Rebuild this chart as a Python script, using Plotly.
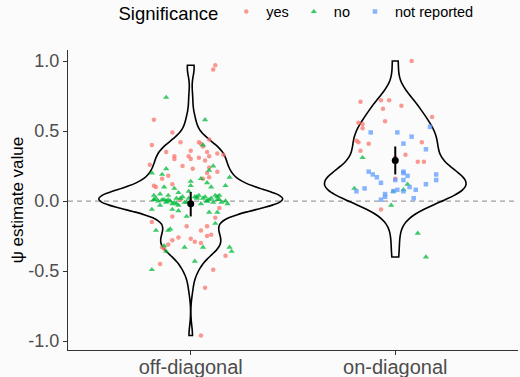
import numpy as np
import plotly.graph_objects as go

# ---------------- data ----------------
categories = ["off-diagonal", "on-diagonal"]
cat_pos = [1, 2]
sig_levels = ["yes", "no", "not reported"]

# off-diagonal, significance = yes
off_yes_val = [0.97, 0.94, 0.58, 0.49, 0.40, 0.42, 0.42, 0.41, 0.39, 0.44,
               0.35, 0.36, 0.35, 0.34, 0.33, 0.32, 0.30, 0.32, 0.30, 0.31,
               0.32, 0.29, 0.26, 0.25, 0.23, 0.24, 0.18, 0.16, 0.20, 0.17,
               0.16, 0.11, 0.12, 0.10, 0.01, -0.05, -0.11, -0.12, -0.18, -0.18,
               -0.21, -0.15, -0.25, -0.24, -0.28, -0.26, -0.27, -0.29, -0.30, -0.31,
               -0.33, -0.34, -0.39, -0.45, -0.49, -0.62, -0.96, 0.21]
off_yes_jit = [0.12, 0.11, -0.18, -0.09, -0.19, -0.05, 0.04, 0.05, 0.06, 0.09,
               -0.12, 0.00, 0.08, 0.13, 0.16, -0.08, -0.08, -0.01, 0.00, 0.04,
               0.09, 0.07, -0.20, -0.04, 0.01, 0.09, -0.11, -0.14, 0.08, 0.09,
               0.06, -0.18, -0.09, -0.17, -0.05, 0.14, -0.09, 0.12, -0.02, 0.08,
               0.05, -0.19, 0.08, 0.10, -0.09, -0.06, 0.00, 0.02, 0.05, -0.11,
               -0.14, -0.13, 0.17, -0.15, 0.11, 0.07, 0.05, 0.13]

# off-diagonal, significance = no
off_no_val = [0.74, 0.58, 0.40, 0.25, 0.23, 0.20, 0.19, 0.22, 0.17, 0.14,
              0.16, 0.10, 0.09, 0.11, 0.13, 0.11, 0.10, 0.04, 0.05, 0.04,
              0.06, 0.07, 0.04, 0.03, 0.04, 0.01, 0.01, 0.00, -0.02, 0.02,
              0.02, 0.01, 0.01, -0.06, -0.06, -0.07, -0.11, -0.08, -0.08, -0.03,
              -0.03, -0.16, -0.20, -0.21, -0.21, -0.32, -0.33, -0.33, -0.33, -0.36,
              -0.36, -0.43, -0.49, 0.02, -0.01, 0.03, -0.01, 0.02,
              0.00, 0.01, -0.01, 0.03, 0.02, -0.02, 0.00, 0.04, -0.01, 0.01,
              0.02, -0.02, 0.00, 0.03, -0.01,
              0.01, 0.00, 0.02, -0.01, 0.03, 0.00, 0.01, -0.02]
off_no_jit = [-0.12, 0.07, 0.06, 0.11, -0.12, -0.19, -0.14, 0.09, 0.19, 0.00,
              0.05, -0.13, -0.08, 0.00, 0.08, 0.17, 0.10, -0.18, -0.15, -0.11,
              -0.06, -0.01, 0.04, 0.07, 0.14, -0.18, -0.14, -0.10, -0.09, -0.01,
              0.06, 0.09, 0.14, -0.19, -0.09, -0.06, -0.02, 0.09, 0.13, -0.15,
              -0.06, 0.12, -0.10, -0.11, -0.17, -0.13, -0.03, 0.06, 0.19, -0.12,
              0.20, 0.02, -0.19, -0.17, -0.12, 0.02, 0.11, -0.05,
              -0.16, -0.13, -0.08, -0.04, 0.03, 0.05, 0.08, 0.12, 0.15, -0.11,
              0.10, -0.07, 0.17, 0.13, -0.03,
              -0.18, -0.12, -0.07, -0.02, 0.03, 0.08, 0.13, 0.18]

# on-diagonal, significance = yes
on_yes_val = [1.00, 0.71, 0.72, 0.72, 0.66, 0.68, 0.60, 0.57, 0.56, 0.55,
              0.52, 0.43, 0.42, 0.42, 0.41, 0.36, 0.33, 0.31, 0.28, 0.28,
              0.16, -0.06]
on_yes_jit = [0.08, -0.17, -0.07, -0.03, -0.06, 0.03, 0.18, -0.05, -0.18, -0.16,
              -0.16, -0.19, -0.18, 0.13, -0.13, -0.17, 0.05, 0.00, 0.11, 0.14,
              0.00, -0.07]

# on-diagonal, significance = no
on_no_val = [0.31, 0.12, 0.09, 0.08, 0.07, -0.03, -0.23, -0.40]
on_no_jit = [-0.16, 0.06, -0.20, 0.04, -0.01, -0.02, 0.11, 0.15]

# on-diagonal, significance = not reported
on_nr_val = [0.53, 0.49, 0.49, 0.46, 0.41, 0.37, 0.21, 0.19, 0.17, 0.13,
             0.15, 0.20, 0.21, 0.18, 0.15, 0.19, 0.15, 0.12, 0.10, 0.08,
             0.07, 0.09, 0.07, 0.08, 0.07, 0.05, 0.03, 0.01, 0.02]
on_nr_jit = [0.17, -0.12, 0.01, 0.08, 0.04, 0.15, -0.13, -0.11, -0.09, -0.07,
             0.00, 0.04, 0.04, 0.06, 0.04, 0.20, 0.20, 0.15, 0.07, 0.10,
             -0.19, -0.15, 0.04, 0.01, -0.01, -0.05, -0.05, -0.07, 0.09]

# summary (mean and interval) per category
mean_vals = [-0.02, 0.29]
err_hi = [0.085, 0.10]
err_lo = [0.09, 0.10]

y_tick_vals = [-1.0, -0.5, 0.0, 0.5, 1.0]
y_tick_text = ["-1.0", "-0.5", "0.0", "0.5", "1.0"]

# ---------------- styling ----------------
colors = {"yes": "#F8766D", "no": "#00BA38", "not reported": "#619CFF"}
symbols = {"yes": "circle", "no": "triangle-up", "not reported": "square"}
sizes = {"yes": 4.5, "no": 5.5, "not reported": 4.5}
violin_widths = [0.9, 0.69]
FONT = "Liberation Sans, Arial, sans-serif"
BG = "#FBFBFB"


def bw_nrd0(v):
    v = np.asarray(v, float)
    sd = v.std(ddof=1)
    iqr = np.subtract(*np.percentile(v, [75, 25]))
    lo = min(sd, iqr / 1.34)
    if lo <= 0:
        lo = sd
    return 0.9 * lo * len(v) ** -0.2


off_all = off_yes_val + off_no_val
on_all = on_yes_val + on_no_val + on_nr_val
groups = [off_all, on_all]

fig = go.Figure()

for i, g in enumerate(groups):
    fig.add_trace(go.Violin(
        x=[cat_pos[i]] * len(g), y=g, bandwidth=bw_nrd0(g), spanmode="hard",
        scalemode="width", width=violin_widths[i], scalegroup="g%d" % i,
        points=False, fillcolor="rgba(0,0,0,0)",
        line=dict(color="black", width=1.6),
        showlegend=False, hoverinfo="skip",
    ))

point_sets = {
    "yes": [(0, off_yes_val, off_yes_jit), (1, on_yes_val, on_yes_jit)],
    "no": [(0, off_no_val, off_no_jit), (1, on_no_val, on_no_jit)],
    "not reported": [(1, on_nr_val, on_nr_jit)],
}
for sig in sig_levels:
    xs, ys = [], []
    for ci, vals, jit in point_sets[sig]:
        xs += [cat_pos[ci] + j for j in jit]
        ys += vals
    fig.add_trace(go.Scatter(
        x=xs, y=ys, mode="markers", name=sig,
        marker=dict(color=colors[sig], symbol=symbols[sig], size=sizes[sig],
                    opacity=0.75, line=dict(width=0)),
    ))

fig.add_trace(go.Scatter(
    x=cat_pos, y=mean_vals, mode="markers", showlegend=False,
    marker=dict(color="black", size=7),
    error_y=dict(type="data", symmetric=False, array=err_hi, arrayminus=err_lo,
                 color="black", thickness=2, width=0),
))

fig.add_shape(type="line", xref="paper", x0=0, x1=1, yref="y", y0=0, y1=0,
              line=dict(color="#A0A0A0", width=1.2, dash="5px,4px"), layer="below")

fig.update_layout(
    width=520, height=377,
    margin=dict(l=68, r=2, t=50, b=27, autoexpand=False),
    paper_bgcolor=BG, plot_bgcolor=BG,
    font=dict(family=FONT, color="#4D4D4D"),
    violinmode="overlay",
    legend=dict(orientation="h", x=0.51, xanchor="center", y=1.123, yanchor="middle",
                yref="paper",
                title=dict(text="Significance", font=dict(size=18.5, color="black")),
                font=dict(size=14.5, color="black"), bgcolor="rgba(0,0,0,0)"),
    xaxis=dict(range=[0.4, 2.6], tickvals=cat_pos, ticktext=categories,
               showgrid=False, zeroline=False, showline=True, linecolor="#333333",
               linewidth=1, ticks="outside", ticklen=4, tickcolor="#333333",
               ticklabelstandoff=-5,
               tickfont=dict(size=20, color="#4D4D4D")),
    yaxis=dict(range=[-1.064, 1.079], tickvals=y_tick_vals, ticktext=y_tick_text,
               showgrid=False, zeroline=False, showline=True, linecolor="#333333",
               linewidth=1, ticks="outside", ticklen=4, tickcolor="#333333",
               tickfont=dict(size=18, color="#4D4D4D"),
               title=dict(text="ψ estimate value", font=dict(size=17, color="black"),
                          standoff=0)),
)

fig.write_html("out.html", config={"displayModeBar": False},
               post_script="document.body.style.margin='0';"
                           "document.body.style.background='" + BG + "';")
